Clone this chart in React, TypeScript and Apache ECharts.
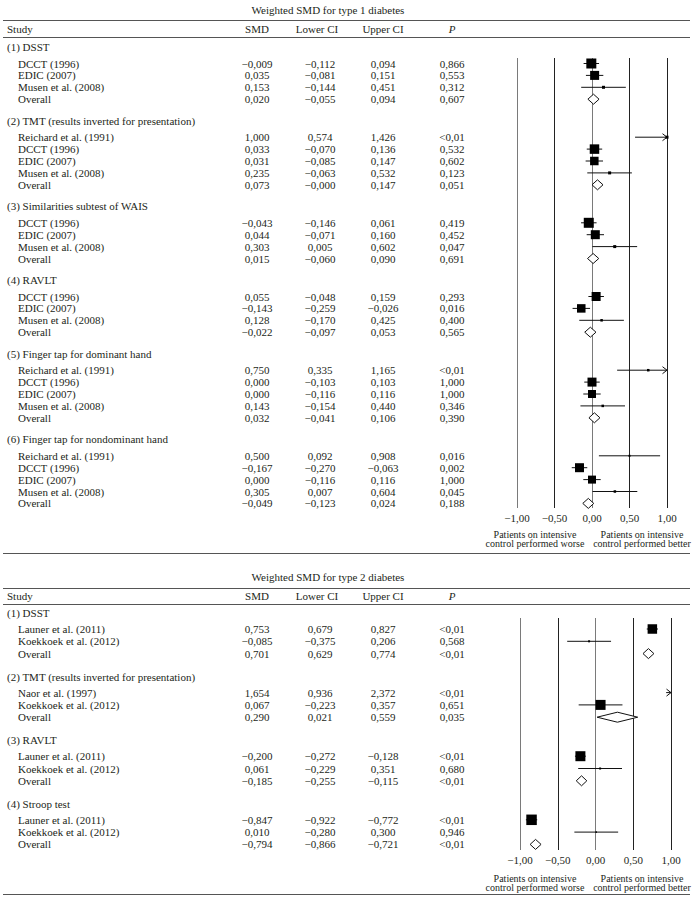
import React, { useEffect, useRef } from "react";
import * as echarts from "echarts";

// ---------- DATA ----------
const columnHeaders = ["Study", "SMD", "Lower CI", "Upper CI", "P"];
const axisTicks = [-1, -0.5, 0, 0.5, 1];
const leftNote = ["Patients on intensive", "control performed worse"];
const rightNote = ["Patients on intensive", "control performed better"];

// Type 1 diabetes
const t1Title = "Weighted SMD for type 1 diabetes";
const t1Groups = [
  "(1) DSST",
  "(2) TMT (results inverted for presentation)",
  "(3) Similarities subtest of WAIS",
  "(4) RAVLT",
  "(5) Finger tap for dominant hand",
  "(6) Finger tap for nondominant hand",
];
const t1RowGroup = [0, 0, 0, 0, 1, 1, 1, 1, 1, 2, 2, 2, 2, 3, 3, 3, 3, 4, 4, 4, 4, 4, 5, 5, 5, 5, 5];
const t1Study = [
  "DCCT (1996)", "EDIC (2007)", "Musen et al. (2008)", "Overall",
  "Reichard et al. (1991)", "DCCT (1996)", "EDIC (2007)", "Musen et al. (2008)", "Overall",
  "DCCT (1996)", "EDIC (2007)", "Musen et al. (2008)", "Overall",
  "DCCT (1996)", "EDIC (2007)", "Musen et al. (2008)", "Overall",
  "Reichard et al. (1991)", "DCCT (1996)", "EDIC (2007)", "Musen et al. (2008)", "Overall",
  "Reichard et al. (1991)", "DCCT (1996)", "EDIC (2007)", "Musen et al. (2008)", "Overall",
];
const t1Smd = [
  -0.009, 0.035, 0.153, 0.02,
  1.0, 0.033, 0.031, 0.235, 0.073,
  -0.043, 0.044, 0.303, 0.015,
  0.055, -0.143, 0.128, -0.022,
  0.75, 0.0, 0.0, 0.143, 0.032,
  0.5, -0.167, 0.0, 0.305, -0.049,
];
const t1Lower = [
  -0.112, -0.081, -0.144, -0.055,
  0.574, -0.07, -0.085, -0.063, -0,
  -0.146, -0.071, 0.005, -0.06,
  -0.048, -0.259, -0.17, -0.097,
  0.335, -0.103, -0.116, -0.154, -0.041,
  0.092, -0.27, -0.116, 0.007, -0.123,
];
const t1Upper = [
  0.094, 0.151, 0.451, 0.094,
  1.426, 0.136, 0.147, 0.532, 0.147,
  0.061, 0.16, 0.602, 0.09,
  0.159, -0.026, 0.425, 0.053,
  1.165, 0.103, 0.116, 0.44, 0.106,
  0.908, -0.063, 0.116, 0.604, 0.024,
];
const t1P = [
  "0,866", "0,553", "0,312", "0,607",
  "<0,01", "0,532", "0,602", "0,123", "0,051",
  "0,419", "0,452", "0,047", "0,691",
  "0,293", "0,016", "0,400", "0,565",
  "<0,01", "1,000", "1,000", "0,346", "0,390",
  "0,016", "0,002", "1,000", "0,045", "0,188",
];
// relative study weight (drawn as square size), 0 = pooled estimate
const t1Weight = [
  10, 9, 3, 0,
  3, 9.5, 8.5, 3, 0,
  10, 9, 3, 0,
  9, 8.5, 2.5, 0,
  2.5, 9, 8, 2.5, 0,
  2, 9, 8, 2.5, 0,
];

// Type 2 diabetes
const t2Title = "Weighted SMD for type 2 diabetes";
const t2Groups = [
  "(1) DSST",
  "(2) TMT (results inverted for presentation)",
  "(3) RAVLT",
  "(4) Stroop test",
];
const t2RowGroup = [0, 0, 0, 1, 1, 1, 2, 2, 2, 3, 3, 3];
const t2Study = [
  "Launer et al. (2011)", "Koekkoek et al. (2012)", "Overall",
  "Naor et al. (1997)", "Koekkoek et al. (2012)", "Overall",
  "Launer et al. (2011)", "Koekkoek et al. (2012)", "Overall",
  "Launer et al. (2011)", "Koekkoek et al. (2012)", "Overall",
];
const t2Smd = [0.753, -0.085, 0.701, 1.654, 0.067, 0.29, -0.2, 0.061, -0.185, -0.847, 0.01, -0.794];
const t2Lower = [0.679, -0.375, 0.629, 0.936, -0.223, 0.021, -0.272, -0.229, -0.255, -0.922, -0.28, -0.866];
const t2Upper = [0.827, 0.206, 0.774, 2.372, 0.357, 0.559, -0.128, 0.351, -0.115, -0.772, 0.3, -0.721];
const t2P = ["<0,01", "0,568", "<0,01", "<0,01", "0,651", "0,035", "<0,01", "0,680", "<0,01", "<0,01", "0,946", "<0,01"];
const t2Weight = [9.5, 2, 0, 1, 10, 0, 10, 2, 0, 10.5, 1.5, 0];

// ---------- LAYOUT / STYLE ----------
const FONT = '"Liberation Serif", "Times New Roman", serif';
const TXT = "#231f20";
const RULE = "#555";
const COL = { study: 7, indent: 18, smd: 257, lower: 320, upper: 383, p: 452, title: 328 };

const S1 = {
  titleY: 10, rule1: 20, headY: 29, rule2: 37, firstY: 47, hf: 16.5, step: 11.9, gap: 21.5,
  gridLeft: 517, gridWidth: 150, gridTop: 58, gridBottom: 508, noteY: 534, ruleEnd: 553,
};
const S2 = {
  titleY: 577, rule1: 588, headY: 596, rule2: 604, firstY: 613, hf: 16, step: 12.3, gap: 23,
  gridLeft: 520, gridWidth: 151, gridTop: 618, gridBottom: 850, noteY: 878, ruleEnd: 894,
};

function fmt(v: number): string {
  const neg = v < 0 || Object.is(v, -0);
  return (neg ? "\u2212" : "") + Math.abs(v).toFixed(3).replace(".", ",");
}

function layoutRows(rowGroup: number[], cfg: any) {
  const headerY: number[] = [];
  const rowY: number[] = [];
  for (let i = 0; i < rowGroup.length; i++) {
    const g = rowGroup[i];
    if (i === 0 || g !== rowGroup[i - 1]) {
      const h = i === 0 ? cfg.firstY : rowY[i - 1] + cfg.gap;
      headerY[g] = h;
      rowY[i] = h + cfg.hf;
    } else {
      rowY[i] = rowY[i - 1] + cfg.step;
    }
  }
  return { headerY, rowY };
}

function text(x: number, y: number, s: string, align = "left", size = 11, extra: any = {}) {
  return {
    type: "text",
    x,
    y,
    silent: true,
    style: {
      text: s,
      fill: TXT,
      font: `${extra.italic ? "italic " : ""}${size}px ${FONT}`,
      align,
      verticalAlign: "middle",
    },
  };
}
function rule(y: number) {
  return {
    type: "line",
    silent: true,
    shape: { x1: 3, y1: y + 0.5, x2: 690, y2: y + 0.5 },
    style: { stroke: RULE, lineWidth: 1 },
  };
}

function sectionGraphics(cfg: any, title: string, groups: string[], rowGroup: number[], study: string[],
  smd: number[], lower: number[], upper: number[], p: string[], rows: any) {
  const els: any[] = [];
  els.push(text(COL.title, cfg.titleY, title, "center"));
  els.push(rule(cfg.rule1));
  els.push(text(COL.study, cfg.headY, columnHeaders[0], "left"));
  els.push(text(COL.smd, cfg.headY, columnHeaders[1], "center"));
  els.push(text(317, cfg.headY, columnHeaders[2], "center"));
  els.push(text(COL.upper, cfg.headY, columnHeaders[3], "center"));
  els.push(text(COL.p, cfg.headY, columnHeaders[4], "center", 11, { italic: true }));
  els.push(rule(cfg.rule2));
  groups.forEach((g, gi) => els.push(text(COL.study, rows.headerY[gi], g, "left")));
  study.forEach((s, i) => {
    const y = rows.rowY[i];
    els.push(text(COL.indent, y, s, "left"));
    els.push(text(COL.smd, y, fmt(smd[i]), "center"));
    els.push(text(COL.lower, y, fmt(lower[i]), "center"));
    els.push(text(COL.upper, y, fmt(upper[i]), "center"));
    els.push(text(COL.p, y, p[i], "center"));
  });
  els.push(text(535, cfg.noteY, leftNote[0], "center", 10));
  els.push(text(535, cfg.noteY + 9.5, leftNote[1], "center", 10));
  els.push(text(642, cfg.noteY, rightNote[0], "center", 10));
  els.push(text(642, cfg.noteY + 9.5, rightNote[1], "center", 10));
  els.push(rule(cfg.ruleEnd));
  return els;
}

const renderForest = (_params: any, api: any) => {
  const m = api.value(0);
  const lo = api.value(1);
  const hi = api.value(2);
  const y = api.value(3);
  const w = api.value(4);
  const clamp = (v: number) => Math.max(-1, Math.min(1, v));
  const pl = api.coord([clamp(lo), y]);
  const ph = api.coord([clamp(hi), y]);
  const pm = api.coord([clamp(m), y]);
  const py = pm[1];
  const children: any[] = [];
  if (w === 0) {
    children.push({
      type: "polygon",
      shape: { points: [[pl[0], py], [pm[0], py - 5], [ph[0], py], [pm[0], py + 5]] },
      style: { fill: "#fff", stroke: "#111", lineWidth: 1 },
    });
  } else {
    children.push({
      type: "line",
      shape: { x1: pl[0], y1: py, x2: ph[0], y2: py },
      style: { stroke: "#111", lineWidth: 1 },
    });
    if (hi > 1) {
      children.push({
        type: "polyline",
        shape: { points: [[ph[0] - 4.5, py - 3.5], [ph[0], py], [ph[0] - 4.5, py + 3.5]] },
        style: { stroke: "#111", lineWidth: 1, fill: "none" },
      });
    }
    if (m >= -1 && m <= 1) {
      children.push({
        type: "rect",
        shape: { x: pm[0] - w / 2, y: py - w / 2, width: w, height: w },
        style: { fill: "#000" },
      });
    }
  }
  return { type: "group", children };
};

function axisPair(cfg: any, idx: number) {
  const xAxis = {
    type: "value",
    gridIndex: idx,
    min: -1,
    max: 1,
    interval: 0.5,
    axisLine: { show: false },
    axisTick: { show: false },
    splitLine: {
      show: true,
      showMinLine: true,
      showMaxLine: true,
      lineStyle: { color: ["#7a7a7a", "#222", "#7a7a7a", "#222", "#222"], width: 1 },
    },
    axisLabel: {
      margin: 4,
      color: TXT,
      fontFamily: FONT,
      fontSize: 11,
      formatter: (v: number) => (v < 0 ? "\u2212" : "") + Math.abs(v).toFixed(2).replace(".", ","),
    },
  };
  const yAxis = {
    type: "value",
    gridIndex: idx,
    min: cfg.gridTop,
    max: cfg.gridBottom,
    inverse: true,
    show: false,
    splitLine: { show: false },
  };
  const grid = {
    left: cfg.gridLeft,
    width: cfg.gridWidth,
    top: cfg.gridTop,
    height: cfg.gridBottom - cfg.gridTop,
  };
  return { xAxis, yAxis, grid };
}

export default function App() {
  const ref = useRef<HTMLDivElement>(null);
  useEffect(() => {
    if (!ref.current) return;
    const chart = echarts.init(ref.current, null, { renderer: "svg" });
    const r1 = layoutRows(t1RowGroup, S1);
    const r2 = layoutRows(t2RowGroup, S2);
    const a1 = axisPair(S1, 0);
    const a2 = axisPair(S2, 1);
    const d1 = t1Smd.map((v, i) => [v, t1Lower[i], t1Upper[i], r1.rowY[i], t1Weight[i]]);
    const d2 = t2Smd.map((v, i) => [v, t2Lower[i], t2Upper[i], r2.rowY[i], t2Weight[i]]);
    const graphics = [
      ...sectionGraphics(S1, t1Title, t1Groups, t1RowGroup, t1Study, t1Smd, t1Lower, t1Upper, t1P, r1),
      ...sectionGraphics(S2, t2Title, t2Groups, t2RowGroup, t2Study, t2Smd, t2Lower, t2Upper, t2P, r2),
    ];
    chart.setOption({
      animation: false,
      backgroundColor: "#fff",
      grid: [a1.grid, a2.grid],
      xAxis: [a1.xAxis, a2.xAxis],
      yAxis: [a1.yAxis, a2.yAxis],
      series: [
        { type: "custom", xAxisIndex: 0, yAxisIndex: 0, renderItem: renderForest, data: d1, silent: true, clip: false },
        { type: "custom", xAxisIndex: 1, yAxisIndex: 1, renderItem: renderForest, data: d2, silent: true, clip: false },
      ],
      graphic: graphics,
    });
    return () => chart.dispose();
  }, []);
  return (
    <div
      ref={ref}
      style={{ position: "absolute", left: 0, top: 0, width: 697, height: 902, background: "#fff" }}
    />
  );
}
